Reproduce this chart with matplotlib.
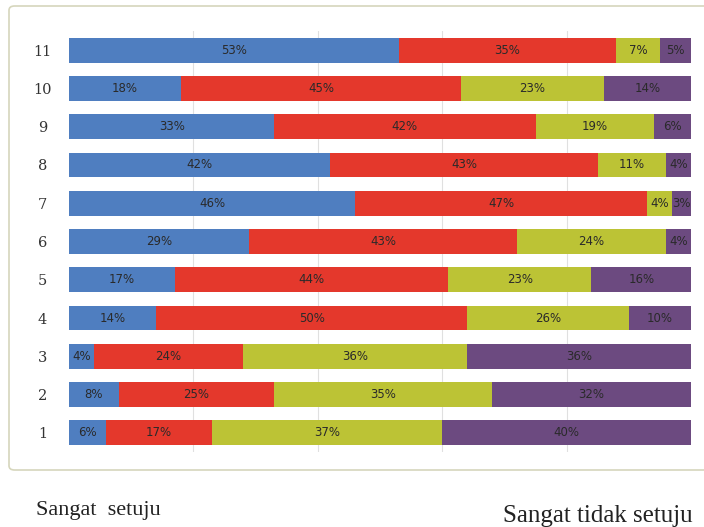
import matplotlib
matplotlib.use("Agg")
import matplotlib.pyplot as plt
from matplotlib.patches import FancyBboxPatch
import numpy as np

rows = ["1", "2", "3", "4", "5", "6", "7", "8", "9", "10", "11"]
sangat_setuju = [6, 8, 4, 14, 17, 29, 46, 42, 33, 18, 53]
setuju = [17, 25, 24, 50, 44, 43, 47, 43, 42, 45, 35]
tidak_setuju = [37, 35, 36, 26, 23, 24, 4, 11, 19, 23, 7]
sangat_tidak_setuju = [40, 32, 36, 10, 16, 4, 3, 4, 6, 14, 5]

series = [sangat_setuju, setuju, tidak_setuju, sangat_tidak_setuju]
colors = ["#4f7ec0", "#e4382c", "#bcc335", "#6c4a80"]

fig = plt.figure(figsize=(7.04, 5.27), dpi=100)

# chart frame
frame = FancyBboxPatch((9/704, 1 - 470/527), (712 - 9)/704, (470 - 6)/527,
                       boxstyle="round,pad=0,rounding_size=0.008",
                       transform=fig.transFigure, facecolor="white",
                       edgecolor="#d6d6bc", linewidth=1.2, zorder=-5)
fig.add_artist(frame)

ax = fig.add_axes([69/704, 1 - 452/527, (691 - 69)/704, (452 - 31)/527])
ax.set_facecolor("none")
ax.set_zorder(2)

y = np.arange(1, len(rows) + 1)
left = np.zeros(len(rows))
for vals, c in zip(series, colors):
    vals = np.array(vals, dtype=float)
    ax.barh(y, vals, left=left, height=0.65, color=c, edgecolor="none", zorder=2)
    for yi, l, v in zip(y, left, vals):
        ax.text(l + v / 2, yi, f"{int(v)}%", ha="center", va="center",
                fontsize=8.5, color="#2a2a2a", family="DejaVu Sans", zorder=3)
    left += vals

ax.set_xlim(0, 100)
ax.set_ylim(0.5, 11.5)
ax.set_xticks([20, 40, 60, 80])
ax.xaxis.grid(True, color="#e0e0e0", linewidth=0.8, zorder=0)
ax.tick_params(axis="x", length=0, labelbottom=False)
ax.set_yticks(y)
ax.set_yticklabels(rows, family="DejaVu Serif", fontsize=10.5, color="#333333")
ax.tick_params(axis="y", length=0, pad=19, labelleft=True)
for lbl in ax.get_yticklabels():
    lbl.set_horizontalalignment("center")
for s in ax.spines.values():
    s.set_visible(False)

fig.text(36/704, 1 - 511/527, "Sangat  setuju", ha="left", va="center",
         family="Liberation Serif", fontsize=16, color="#222222")
fig.text(693/704, 1 - 516/527, "Sangat tidak setuju", ha="right", va="center",
         family="Liberation Serif", fontsize=18, color="#222222")

fig.savefig("out.png", dpi=100)
